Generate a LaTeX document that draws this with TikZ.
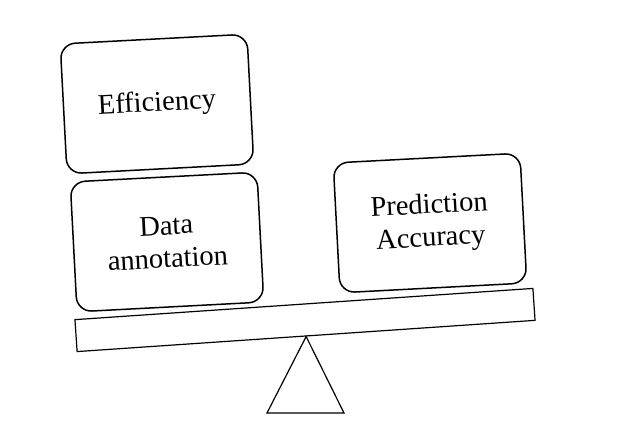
\documentclass[tikz,border=0pt]{standalone}
\usepackage{fontspec}
\setmainfont{Liberation Serif}
\tikzstyle{block}=[draw,line width=1.5pt,rounded corners=15pt,rotate=3,minimum width=187pt,minimum height=130pt,align=center,font=\fontsize{28.5}{33}\selectfont]
\tikzstyle{beam}=[draw,line width=1.2pt,rotate=3.9,minimum width=459pt,minimum height=32pt,inner sep=0pt]
\tikzstyle{pivot}=[draw,line width=1.2pt,line join=miter]

\begin{document}
\begin{tikzpicture}[x=1pt, y=-1pt]
    \useasboundingbox (0,0) rectangle (622,441);
    % First we draw the weights on the scale
    \foreach \pos/\name/\text in {{(157,104)/eff/Efficiency}, {(167,242)/data/Data\\annotation}, {(430,223)/acc/Prediction\\Accuracy}}
        \node[block] (\name) at \pos {\text};
    % Then the beam and the pivot under it
    \node[beam] (board) at (305,320) {};
    \path[pivot] (board.south) -- (267,413) -- (344,413) -- cycle;
\end{tikzpicture}
\end{document}
